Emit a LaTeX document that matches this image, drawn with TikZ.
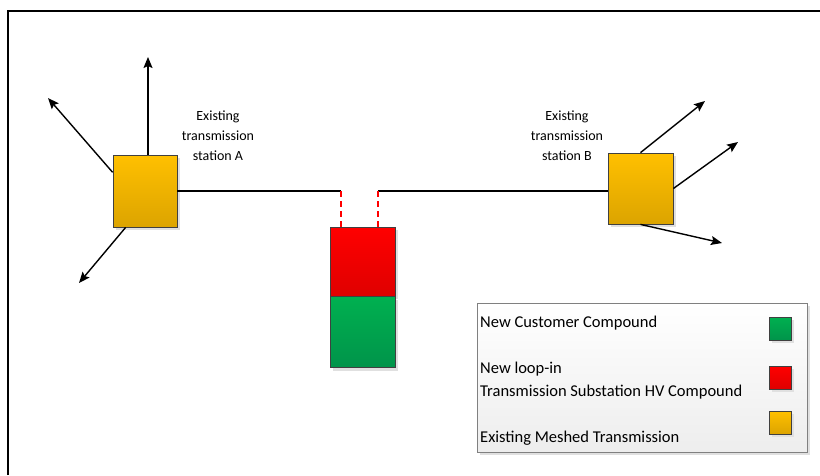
\documentclass[tikz,border=0pt]{standalone}
\usepackage{fontspec}
\setmainfont{Carlito}
\usetikzlibrary{positioning,arrows.meta,shadows}
\definecolor{stnTop}{HTML}{FFC000}
\definecolor{stnBot}{HTML}{DCA400}
\definecolor{hvTop}{HTML}{FF0000}
\definecolor{hvBot}{HTML}{DF0000}
\definecolor{custTop}{HTML}{00B050}
\definecolor{custBot}{HTML}{00944A}
\definecolor{edge}{HTML}{404040}
\tikzstyle{boxshadow} = [drop shadow={shadow xshift=3pt,shadow yshift=-3pt,fill=black!12,opacity=1}]
\tikzstyle{station} = [rectangle, draw=edge, line width=0.8pt, top color=stnTop, bottom color=stnBot, minimum width=64pt, minimum height=72pt, boxshadow]
\tikzstyle{hvbox} = [rectangle, draw=edge, line width=0.8pt, top color=hvTop, bottom color=hvBot, minimum width=65pt, minimum height=69pt, boxshadow]
\tikzstyle{custbox} = [rectangle, draw=edge, line width=0.8pt, top color=custTop, bottom color=custBot, minimum width=65pt, minimum height=71pt, boxshadow]
\tikzstyle{legsq} = [rectangle, draw=edge, line width=0.8pt, minimum width=22pt, minimum height=23pt, inner sep=0pt, boxshadow]
\tikzstyle{legendbox} = [rectangle, draw=gray, line width=0.8pt, top color=white, bottom color=black!7, minimum width=330pt, minimum height=149pt, boxshadow]
\tikzstyle{stnlabel} = [align=center, inner sep=0pt, font=\fontsize{14}{20}\selectfont]
\tikzstyle{legtxt} = [anchor=base west, inner sep=0pt, font=\fontsize{16.5}{23}\selectfont]
\tikzstyle{line} = [line width=1.4pt]
\tikzstyle{arrow} = [line width=1.4pt,-{Stealth[length=11pt,width=9pt,inset=2pt]}]
\tikzstyle{loopin} = [line width=2.4pt, red, dash pattern=on 6pt off 4pt]

\begin{document}
\begin{tikzpicture}[x=1pt,y=-1pt]
\useasboundingbox (0,0) rectangle (820,475);
\draw [line width=2.6pt] (8,475) -- (8,11) -- (820,11);
% stations
\node (stnA) [station] at (145,191) {};
\node (stnB) [station,minimum width=65pt,minimum height=71pt] at (640.5,188.5) {};
\node (lblA) [stnlabel] at (218,136) {Existing\\transmission\\station A};
\node (lblB) [stnlabel] at (567,136) {Existing\\transmission\\station B};
% new compound
\node (hv) [hvbox] at (362.5,261.5) {};
\node (cust) [custbox,below=0pt of hv] {};
\coordinate (gapL) at (341,191);
\coordinate (gapR) at (378,191);
\coordinate (outA1) at (148,57);
\coordinate (outA2) at (48,98);
\coordinate (outA3) at (79,283);
\coordinate (outB1) at (705,101);
\coordinate (outB2) at (738,142);
\coordinate (outB3) at (722,243);
\draw [line] (stnA.east) -- (gapL);
\draw [line] (gapR) -- (stnB.west |- gapR);
\draw [loopin] (gapL) -- (gapL |- hv.north);
\draw [loopin] (gapR) -- (gapR |- hv.north);
\draw [arrow] (stnA.north -| outA1) -- (outA1);
\draw [arrow] (stnA.150) -- (outA2);
\draw [arrow] (stnA.242) -- (outA3);
\draw [arrow] (stnB.north) -- (outB1);
\draw [arrow] (stnB.east) -- (outB2);
\draw [arrow] (stnB.south) -- (outB3);
% legend
\node (legend) [legendbox] at (642,377.5) {};
\node (txtCust) [legtxt] at (480,327) {New Customer Compound};
\node (txtHV1) [legtxt] at (480,373) {New loop-in};
\node (txtHV2) [legtxt] at (480,396) {Transmission Substation HV Compound};
\node (txtStn) [legtxt] at (480,442) {Existing Meshed Transmission};
\node (sqCust) [legsq,top color=custTop,bottom color=custBot] at (780,328.5) {};
\node (sqHV) [legsq,top color=hvTop,bottom color=hvBot] at (780,377.5) {};
\node (sqStn) [legsq,top color=stnTop,bottom color=stnBot] at (780,422.5) {};
\end{tikzpicture}
\end{document}
